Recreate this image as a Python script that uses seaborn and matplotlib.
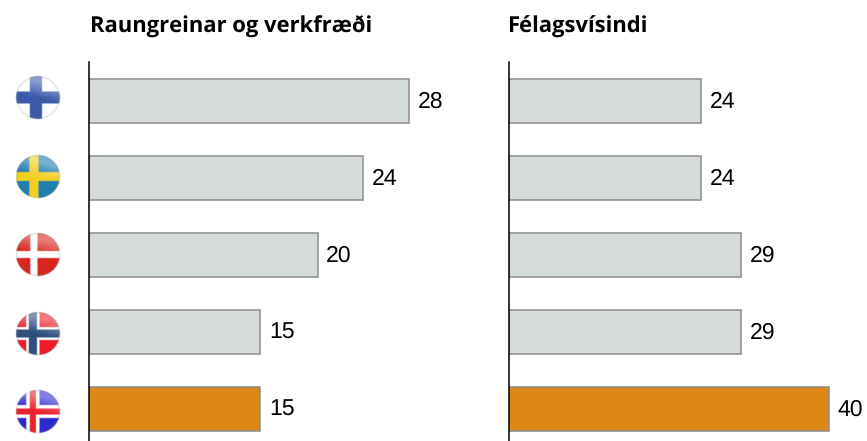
import numpy as np
import pandas as pd
import matplotlib
matplotlib.use("Agg")
import matplotlib.pyplot as plt
import seaborn as sns

countries = ["Finnland", "Svíþjóð", "Danmörk", "Noregur", "Ísland"]
science = [28, 24, 20, 15, 15]
social = [24, 24, 29, 29, 40]
titles = ["Raungreinar og verkfræði", "Félagsvísindi"]

GREY, ORANGE, EDGE = "#d5dbdb", "#dd8716", "#8c8c8c"
bar_colors = [GREY, GREY, GREY, GREY, ORANGE]

W, H = 867, 441
sns.set_theme(style="white")
plt.rcParams["font.family"] = ["Liberation Sans", "DejaVu Sans"]
plt.rcParams["text.hinting"] = "no_hinting"
plt.rcParams["text.hinting_factor"] = 1
fig = plt.figure(figsize=(W / 100, H / 100), dpi=100, facecolor="white")


def px_axes(x0, y0, x1, y1, **kw):
    return fig.add_axes([x0 / W, 1 - y1 / H, (x1 - x0) / W, (y1 - y0) / H], **kw)


def panel(values, title, x0, xmax, title_x):
    ax = px_axes(x0, 62, x0 + 340, 441)
    df = pd.DataFrame({"country": countries, "value": values})
    sns.barplot(data=df, x="value", y="country", hue="country", palette=bar_colors,
                saturation=1, dodge=False, legend=False, orient="h", width=0.57, ax=ax,
                edgecolor=EDGE, linewidth=1.1)
    ax.set_xlim(0, xmax)
    ax.set_ylim(4.416, -0.5)
    ax.set_xlabel("")
    ax.set_ylabel("")
    ax.set_xticks([])
    ax.set_yticks([])
    sns.despine(ax=ax, top=True, right=True, bottom=True)
    ax.spines["left"].set_color("black")
    ax.spines["left"].set_linewidth(1.1)
    for c in ax.containers:
        for lab in ax.bar_label(c, padding=6.2, fontsize=16.6, color="black"):
            xo, yo = lab.xyann
            lab.xyann = (xo, yo - 0.8)
    fig.text(title_x / W, 1 - 27 / H, title, fontsize=16, fontweight="bold",
             family="Open Sans", color="black", va="center", ha="left")


panel(science, titles[0], 89, 340 / (320 / 28), 90)
panel(social, titles[1], 509, 340 / 8.0, 507)

# Round country flags (field, outer cross, inner cross, cross widths, cross offset)
flags = [
    ("#ffffff", "#3c5aa8", None, 12, 0, -2),
    ("#1f7fae", "#f4cf22", None, 9, 0, -4),
    ("#d8261f", "#ffffff", None, 7, 0, -4),
    ("#ee1c2a", "#ffffff", "#2f4f7f", 13, 8, -5),
    ("#2a2ad0", "#ffffff", "#e8202a", 13, 6, -5),
]
centers_y = [98, 177, 255, 333, 411]
R = 21.5
CX = 37


def rgb(h):
    return np.array(matplotlib.colors.to_rgb(h))


for (field, cross, inner, w1, w2, off), cy in zip(flags, centers_y):
    n = 4
    size = int(2 * (R + 2)) * n
    v, u = np.mgrid[0:size, 0:size]
    dx = (u + 0.5) / n - size / (2 * n)
    dy = (v + 0.5) / n - size / (2 * n)

    def soft(d, w):
        return np.clip((w / 2 - np.abs(d)) / 1.0 + 0.5, 0, 1)

    img = np.ones((size, size, 3)) * rgb(field)
    mask = np.maximum(soft(dx - off, w1), soft(dy, w1))[..., None]
    img = img * (1 - mask) + rgb(cross) * mask
    if inner:
        m2 = np.maximum(soft(dx - off, w2), soft(dy, w2))[..., None]
        img = img * (1 - m2) + rgb(inner) * m2
    r = np.hypot(dx, dy) / R
    # soft gloss across the upper half, fading toward the centre line
    gloss = np.clip((-dy / R) * 0.55 + (dx / R) * 0.15, 0, 0.4)
    img = img + (1 - img) * gloss[..., None]
    rim = np.clip((r - 0.9) / 0.1, 0, 1)[..., None] * 0.3
    img = img * (1 - rim) + rim * np.array([0.5, 0.5, 0.5])
    alpha = np.clip((1 - r) * R + 0.5, 0, 1)
    rgba = np.dstack([img, alpha])
    half = size / (2 * n)
    fa = px_axes(CX - half, cy - half, CX + half, cy + half)
    fa.imshow(rgba, interpolation="antialiased", aspect="auto")
    fa.axis("off")

fig.savefig("out.png", dpi=100, facecolor="white")
